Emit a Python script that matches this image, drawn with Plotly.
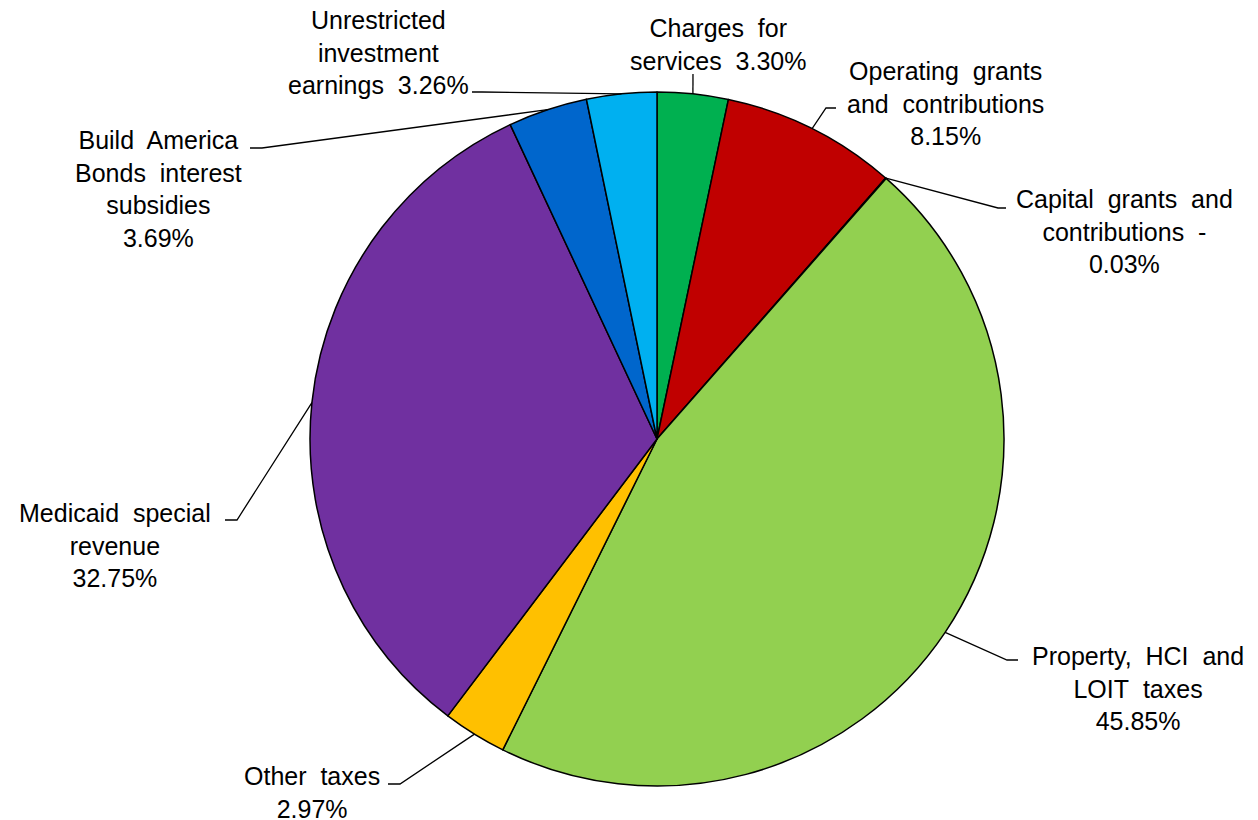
import math
import plotly.graph_objects as go

# the page body has an 8px margin, so the figure is drawn 8px in from the corner
OFF = 8
W, H = 1258 - OFF, 820 - OFF

categories = [
    "Charges for services",
    "Operating grants and contributions",
    "Capital grants and contributions",
    "Property, HCI and LOIT taxes",
    "Other taxes",
    "Medicaid special revenue",
    "Build America Bonds interest subsidies",
    "Unrestricted investment earnings",
]
values = [3.30, 8.15, 0.03, 45.85, 2.97, 32.75, 3.69, 3.26]
S = "\u00a0 "
label_texts = [
    f"Charges{S}for<br>services{S}3.30%",
    f"Operating{S}grants<br>and{S}contributions<br>8.15%",
    f"Capital{S}grants{S}and<br>contributions{S}-<br>0.03%",
    f"Property,{S}HCI{S}and<br>LOIT{S}taxes<br>45.85%",
    f"Other{S}taxes<br>2.97%",
    f"Medicaid{S}special<br>revenue<br>32.75%",
    f"Build{S}America<br>Bonds{S}interest<br>subsidies<br>3.69%",
    f"Unrestricted<br>investment<br>earnings{S}3.26%",
]
colors = ["#00B050", "#C00000", "#92D050", "#92D050", "#FFC000",
          "#7030A0", "#0066CC", "#00B0F0"]

# layout (pixel, screenshot coords) geometry
CX, CY, R = 657, 439, 347
label_pos = [
    (718, 44), (945, 103), (1124, 231), (1138, 688),
    (312, 792), (115, 545), (158, 189), (378, 52),
]
leader = [
    [(693, 74), (693, 74)],
    [(826, 108), (836, 108)],
    [(998, 208), (1006, 208)],
    [(1007, 660), (1018, 660)],
    [(400, 784), (388, 784)],
    [(237, 520), (225, 520)],
    [(262, 148), (250, 148)],
    [(482, 92), (472, 92)],
]


def px(x, y):
    return (x - OFF) / W, 1 - (y - OFF) / H


x0, y1 = px(CX - R, CY - R)
x1, y0 = px(CX + R, CY + R)

fig = go.Figure(go.Pie(
    labels=categories,
    values=values,
    sort=False,
    direction="clockwise",
    rotation=0,
    textinfo="none",
    marker=dict(colors=colors, line=dict(color="black", width=1.5)),
    domain=dict(x=[x0, x1], y=[y0, y1]),
    showlegend=False,
))

total = sum(values)
cum = 0.0
shapes = []
annotations = []
for i, v in enumerate(values):
    mid = (cum + v / 2) / total
    cum += v
    ang = 2 * math.pi * mid
    sx = CX + R * math.sin(ang)
    sy = CY - R * math.cos(ang)
    pts = [(sx, sy)] + leader[i]
    path = "M " + " L ".join("%f,%f" % px(*p) for p in pts)
    shapes.append(dict(type="path", xref="paper", yref="paper", path=path,
                       line=dict(color="black", width=1.3)))
    lx, ly = px(*label_pos[i])
    annotations.append(dict(x=lx, y=ly, xref="paper", yref="paper", text=label_texts[i],
                            showarrow=False, align="center", xanchor="center", yanchor="middle",
                            font=dict(family="Liberation Sans, Arial", size=25, color="black")))

fig.update_layout(
    width=W, height=H,
    margin=dict(l=0, r=0, t=0, b=0),
    paper_bgcolor="white", plot_bgcolor="white",
    shapes=shapes, annotations=annotations,
)
fig.write_html("out.html")
